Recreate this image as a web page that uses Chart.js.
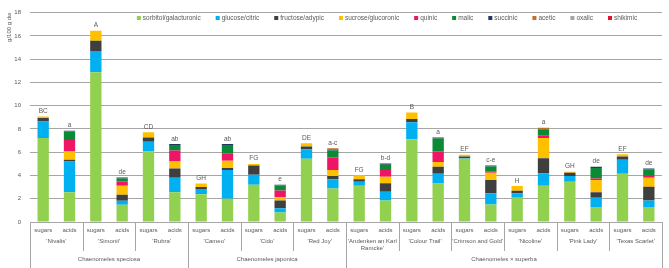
<!DOCTYPE html>
<html>
<head>
<meta charset="utf-8">
<script src="https://cdn.jsdelivr.net/npm/chart.js@4.4.1/dist/chart.umd.min.js"></script>
<style>
  html, body { margin: 0; padding: 0; background: #fff; }
  #wrap { width: 669px; height: 268px; }
</style>
</head>
<body>
<div id="wrap"><canvas id="chart" width="669" height="268"></canvas></div>
<script>
const cultivars = ["'Nivalis'", "'Simonii'", "'Rubra'", "'Cameo'", "'Cido'", "'Red Joy'",
  ["'Andenken an Karl", "Ramcke'"], "'Colour Trail'", "'Crimson and Gold'", "'Nicoline'",
  "'Pink Lady'", "'Texas Scarlet'"];
const species = ["Chaenomeles speciosa", "Chaenomeles japonica", "Chaenomeles × superba"];
const speciesSize = [3, 3, 6];
const parts = ["sugars", "acids"];

// sugars, g/100 g dw
const sorbitol = [7.23, 12.87, 6.06, 2.38, 3.20, 5.44, 3.11, 7.12, 5.44, 2.08, 3.47, 4.15];
const glucose  = [1.40, 1.82, 0.84, 0.46, 0.87, 0.81, 0.34, 1.46, 0.05, 0.39, 0.48, 1.20];
const fructose = [0.31, 0.90, 0.36, 0.17, 0.78, 0.23, 0.22, 0.28, 0.14, 0.22, 0.28, 0.28];
const sucrose  = [0.12, 0.84, 0.45, 0.30, 0.14, 0.28, 0.34, 0.56, 0.15, 0.40, 0.08, 0.20];

// acids, g/100 g dw
const galacturonic = [2.55, 1.49, 2.55, 1.99, 0.82, 2.89, 1.85, 3.31, 1.51, 3.11, 1.29, 1.29];
const citric       = [2.66, 0.33, 1.26, 2.47, 0.36, 0.78, 0.76, 0.84, 0.96, 1.07, 0.79, 0.56];
const adypic       = [0.14, 0.53, 0.79, 0.19, 0.67, 0.28, 0.73, 0.59, 1.15, 1.31, 0.47, 1.18];
const glucoronic   = [0.71, 0.76, 0.59, 0.62, 0.28, 0.51, 0.56, 0.42, 0.61, 1.74, 1.07, 0.78];
const quinic       = [0.98, 0.37, 0.95, 0.59, 0.58, 1.09, 0.56, 0.90, 0.10, 0.23, 0.11, 0.23];
const malic        = [0.75, 0.25, 0.48, 0.76, 0.42, 0.59, 0.47, 1.12, 0.44, 0.50, 0.92, 0.48];
const succinic     = [0.05, 0.10, 0.08, 0.08, 0.08, 0.05, 0.09, 0.09, 0.05, 0.04, 0.09, 0.08];
const acetic       = [0, 0, 0, 0, 0, 0.15, 0, 0, 0.05, 0.10, 0, 0];
const oxalic       = [0, 0, 0, 0, 0, 0, 0, 0, 0, 0, 0, 0];
const shikimic     = [0, 0, 0, 0, 0, 0, 0, 0, 0, 0, 0, 0];

const sugarLetters = ["BC", "A", "CD", "GH", "FG", "DE", "FG", "B", "EF", "H", "GH", "EF"];
const acidLetters  = ["a", "de", "ab", "ab", "e", "a-c", "b-d", "a", "c-e", "a", "de", "de"];

const yTicks = [0, 2, 4, 6, 8, 10, 12, 14, 16, 18];

const FONT = "'Liberation Sans', Arial, sans-serif";
const TXT = "#595959";
const LINE = "#A6A6A6";

// sugar + acid values side by side for each cultivar
function pair(s, a) {
  const out = [];
  for (let i = 0; i < cultivars.length; i++) {
    out.push(s ? s[i] : null, a ? a[i] : null);
  }
  return out;
}

const labels = cultivars.flatMap(() => parts);

const series = [
  ["sorbitol/galacturonic", sorbitol, galacturonic, "#92D050"],
  ["glucose/citric", glucose, citric, "#00B0F0"],
  ["fructose/adypic", fructose, adypic, "#3F3F3F"],
  ["sucrose/glucoronic", sucrose, glucoronic, "#FFC000"],
  ["quinic", null, quinic, "#EE1566"],
  ["malic", null, malic, "#0B8A35"],
  ["succinic", null, succinic, "#203864"],
  ["acetic", null, acetic, "#C0702A"],
  ["oxalic", null, oxalic, "#A5A5A5"],
  ["shikimic", null, shikimic, "#E8112D"]
];

const datasets = series.map(([label, s, a, color]) => ({
  label,
  data: pair(s, a),
  backgroundColor: color,
  borderWidth: 0,
  barPercentage: 0.43,
  categoryPercentage: 1
}));

const letters = pair(sugarLetters, acidLetters);

// legend drawn by hand so spacing follows the picture
const legendPlugin = {
  id: "ownLegend",
  afterDraw(chart) {
    const ctx = chart.ctx;
    ctx.save();
    ctx.font = "6.5px " + FONT;
    ctx.textBaseline = "middle";
    const box = 4, gap = 15;
    const widths = datasets.map(d => box + 2 + ctx.measureText(d.label).width);
    const total = widths.reduce((a, b) => a + b, 0) + gap * (widths.length - 1);
    let x = 387 - total / 2;
    const y = 18;
    datasets.forEach((d, i) => {
      ctx.fillStyle = d.backgroundColor;
      ctx.fillRect(x, y - box / 2, box, box);
      ctx.fillStyle = TXT;
      ctx.fillText(d.label, x + box + 2, y);
      x += widths[i] + gap;
    });
    ctx.restore();
  }
};

// letters above the bars
const letterPlugin = {
  id: "letters",
  afterDatasetsDraw(chart) {
    const ctx = chart.ctx;
    const ys = chart.scales.y, xs = chart.scales.x;
    ctx.save();
    ctx.font = "6.5px " + FONT;
    ctx.fillStyle = TXT;
    ctx.textAlign = "center";
    ctx.textBaseline = "bottom";
    labels.forEach((_, i) => {
      const sum = datasets.reduce((t, d) => t + (d.data[i] || 0), 0);
      ctx.fillText(letters[i], xs.getPixelForValue(i), ys.getPixelForValue(sum) - 2);
    });
    ctx.restore();
  }
};

// cultivar and species rows under the sugars/acids labels
const groupAxisPlugin = {
  id: "groupAxis",
  afterDraw(chart) {
    const ctx = chart.ctx;
    const xs = chart.scales.x;
    const base = xs.top;
    const w = xs.width / labels.length;
    ctx.save();
    ctx.strokeStyle = LINE;
    ctx.lineWidth = 1;
    ctx.fillStyle = TXT;
    ctx.textAlign = "center";
    ctx.textBaseline = "middle";
    ctx.font = "6px " + FONT;

    const ends = [];
    let acc = 0;
    speciesSize.forEach(n => { acc += n; ends.push(acc); });

    for (let k = 0; k <= cultivars.length; k++) {
      const x = Math.round(xs.left + k * 2 * w) + 0.5;
      const long = k === 0 || ends.includes(k);
      ctx.beginPath();
      ctx.moveTo(x, base);
      ctx.lineTo(x, long ? 268 : 251);
      ctx.stroke();
    }

    cultivars.forEach((c, i) => {
      const cx = xs.left + (2 * i + 1) * w;
      if (Array.isArray(c)) {
        ctx.fillText(c[0], cx, 241);
        ctx.fillText(c[1], cx, 248);
      } else {
        ctx.fillText(c, cx, 241);
      }
    });

    let start = 0;
    species.forEach((s, j) => {
      const cx = xs.left + (start + speciesSize[j]) * w;
      ctx.fillText(s, cx, 259);
      start += 2 * speciesSize[j];
    });
    ctx.restore();
  }
};

new Chart(document.getElementById("chart"), {
  type: "bar",
  data: { labels, datasets },
  options: {
    responsive: false,
    animation: false,
    layout: { padding: { top: 8, right: 7, left: 0, bottom: 0 } },
    plugins: {
      legend: { display: false },
      tooltip: { enabled: false }
    },
    scales: {
      x: {
        stacked: true,
        grid: { display: false, drawTicks: false },
        border: { color: LINE },
        ticks: {
          color: TXT,
          font: { family: FONT, size: 6 },
          padding: 5,
          autoSkip: false,
          maxRotation: 0
        },
        afterFit(scale) { scale.height = 46; }
      },
      y: {
        stacked: true,
        min: 0,
        max: 18,
        afterBuildTicks(scale) { scale.ticks = yTicks.map(v => ({ value: v })); },
        grid: { color: LINE, drawTicks: false },
        border: { display: false },
        ticks: {
          color: TXT,
          font: { family: FONT, size: 6 },
          padding: 9
        },
        title: {
          display: true,
          text: "g/100 g dw",
          align: "end",
          color: TXT,
          font: { family: FONT, size: 6 },
          padding: { top: 6, bottom: 0 }
        },
        afterFit(scale) { scale.width = 30; }
      }
    }
  },
  plugins: [legendPlugin, letterPlugin, groupAxisPlugin]
});
</script>
</body>
</html>
